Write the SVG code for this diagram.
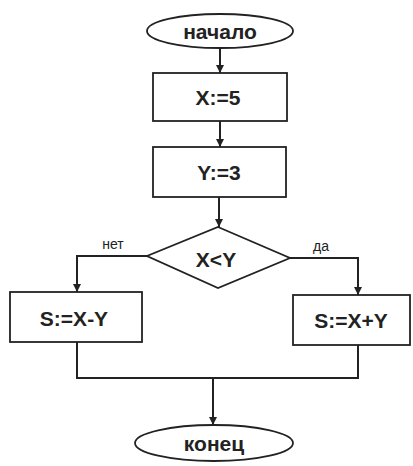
<svg xmlns="http://www.w3.org/2000/svg" width="413" height="466" viewBox="0 0 413 466">
<style>
.s{fill:#fff;stroke:#222;stroke-width:1.8}
.t{font-family:"Liberation Sans",Arial,sans-serif;font-weight:bold;font-size:21px;fill:#222;text-anchor:middle;dominant-baseline:central}
.l{font-family:"Liberation Sans",Arial,sans-serif;font-size:14px;fill:#222;text-anchor:middle}
.c{fill:none;stroke:#222;stroke-width:2}
</style>
<defs>
<marker id="a" viewBox="0 0 10 10" refX="10" refY="5" markerWidth="4" markerHeight="4" orient="auto"><path d="M0,0L10,5L0,10z" fill="#222"/></marker>
</defs>
<rect width="413" height="466" fill="#fff"/>
<g id="connectors">
<path class="c" d="M220,48V73" marker-end="url(#a)"/>
<path class="c" d="M220,121V147" marker-end="url(#a)"/>
<path class="c" d="M219,197V227" marker-end="url(#a)"/>
<path class="c" d="M147,256H77V292" marker-end="url(#a)"/>
<path class="c" d="M290,258H358V295" marker-end="url(#a)"/>
<path class="c" d="M77,342V378H358V345"/>
<path class="c" d="M213,378V425" marker-end="url(#a)"/>
<text class="l" x="113" y="249">нет</text>
<text class="l" x="321" y="251">да</text>
</g>
<g id="start"><ellipse class="s" cx="220" cy="31" rx="73" ry="17"/><text class="t" x="220" y="31">начало</text></g>
<g id="x5"><rect class="s" x="153" y="73" width="134" height="48"/><text class="t" x="218" y="97">X:=5</text></g>
<g id="y3"><rect class="s" x="153" y="147" width="133" height="50"/><text class="t" x="219" y="172">Y:=3</text></g>
<g id="cond"><path class="s" d="M218,227L290,258L218,288L147,256Z"/><text class="t" x="216" y="259">X&lt;Y</text></g>
<g id="sminus"><rect class="s" x="10" y="292" width="132" height="50"/><text class="t" x="74" y="318">S:=X-Y</text></g>
<g id="splus"><rect class="s" x="293" y="295" width="117" height="50"/><text class="t" x="351" y="320">S:=X+Y</text></g>
<g id="end"><ellipse class="s" cx="214" cy="443" rx="79" ry="18"/><text class="t" x="214" y="443">конец</text></g>
</svg>
